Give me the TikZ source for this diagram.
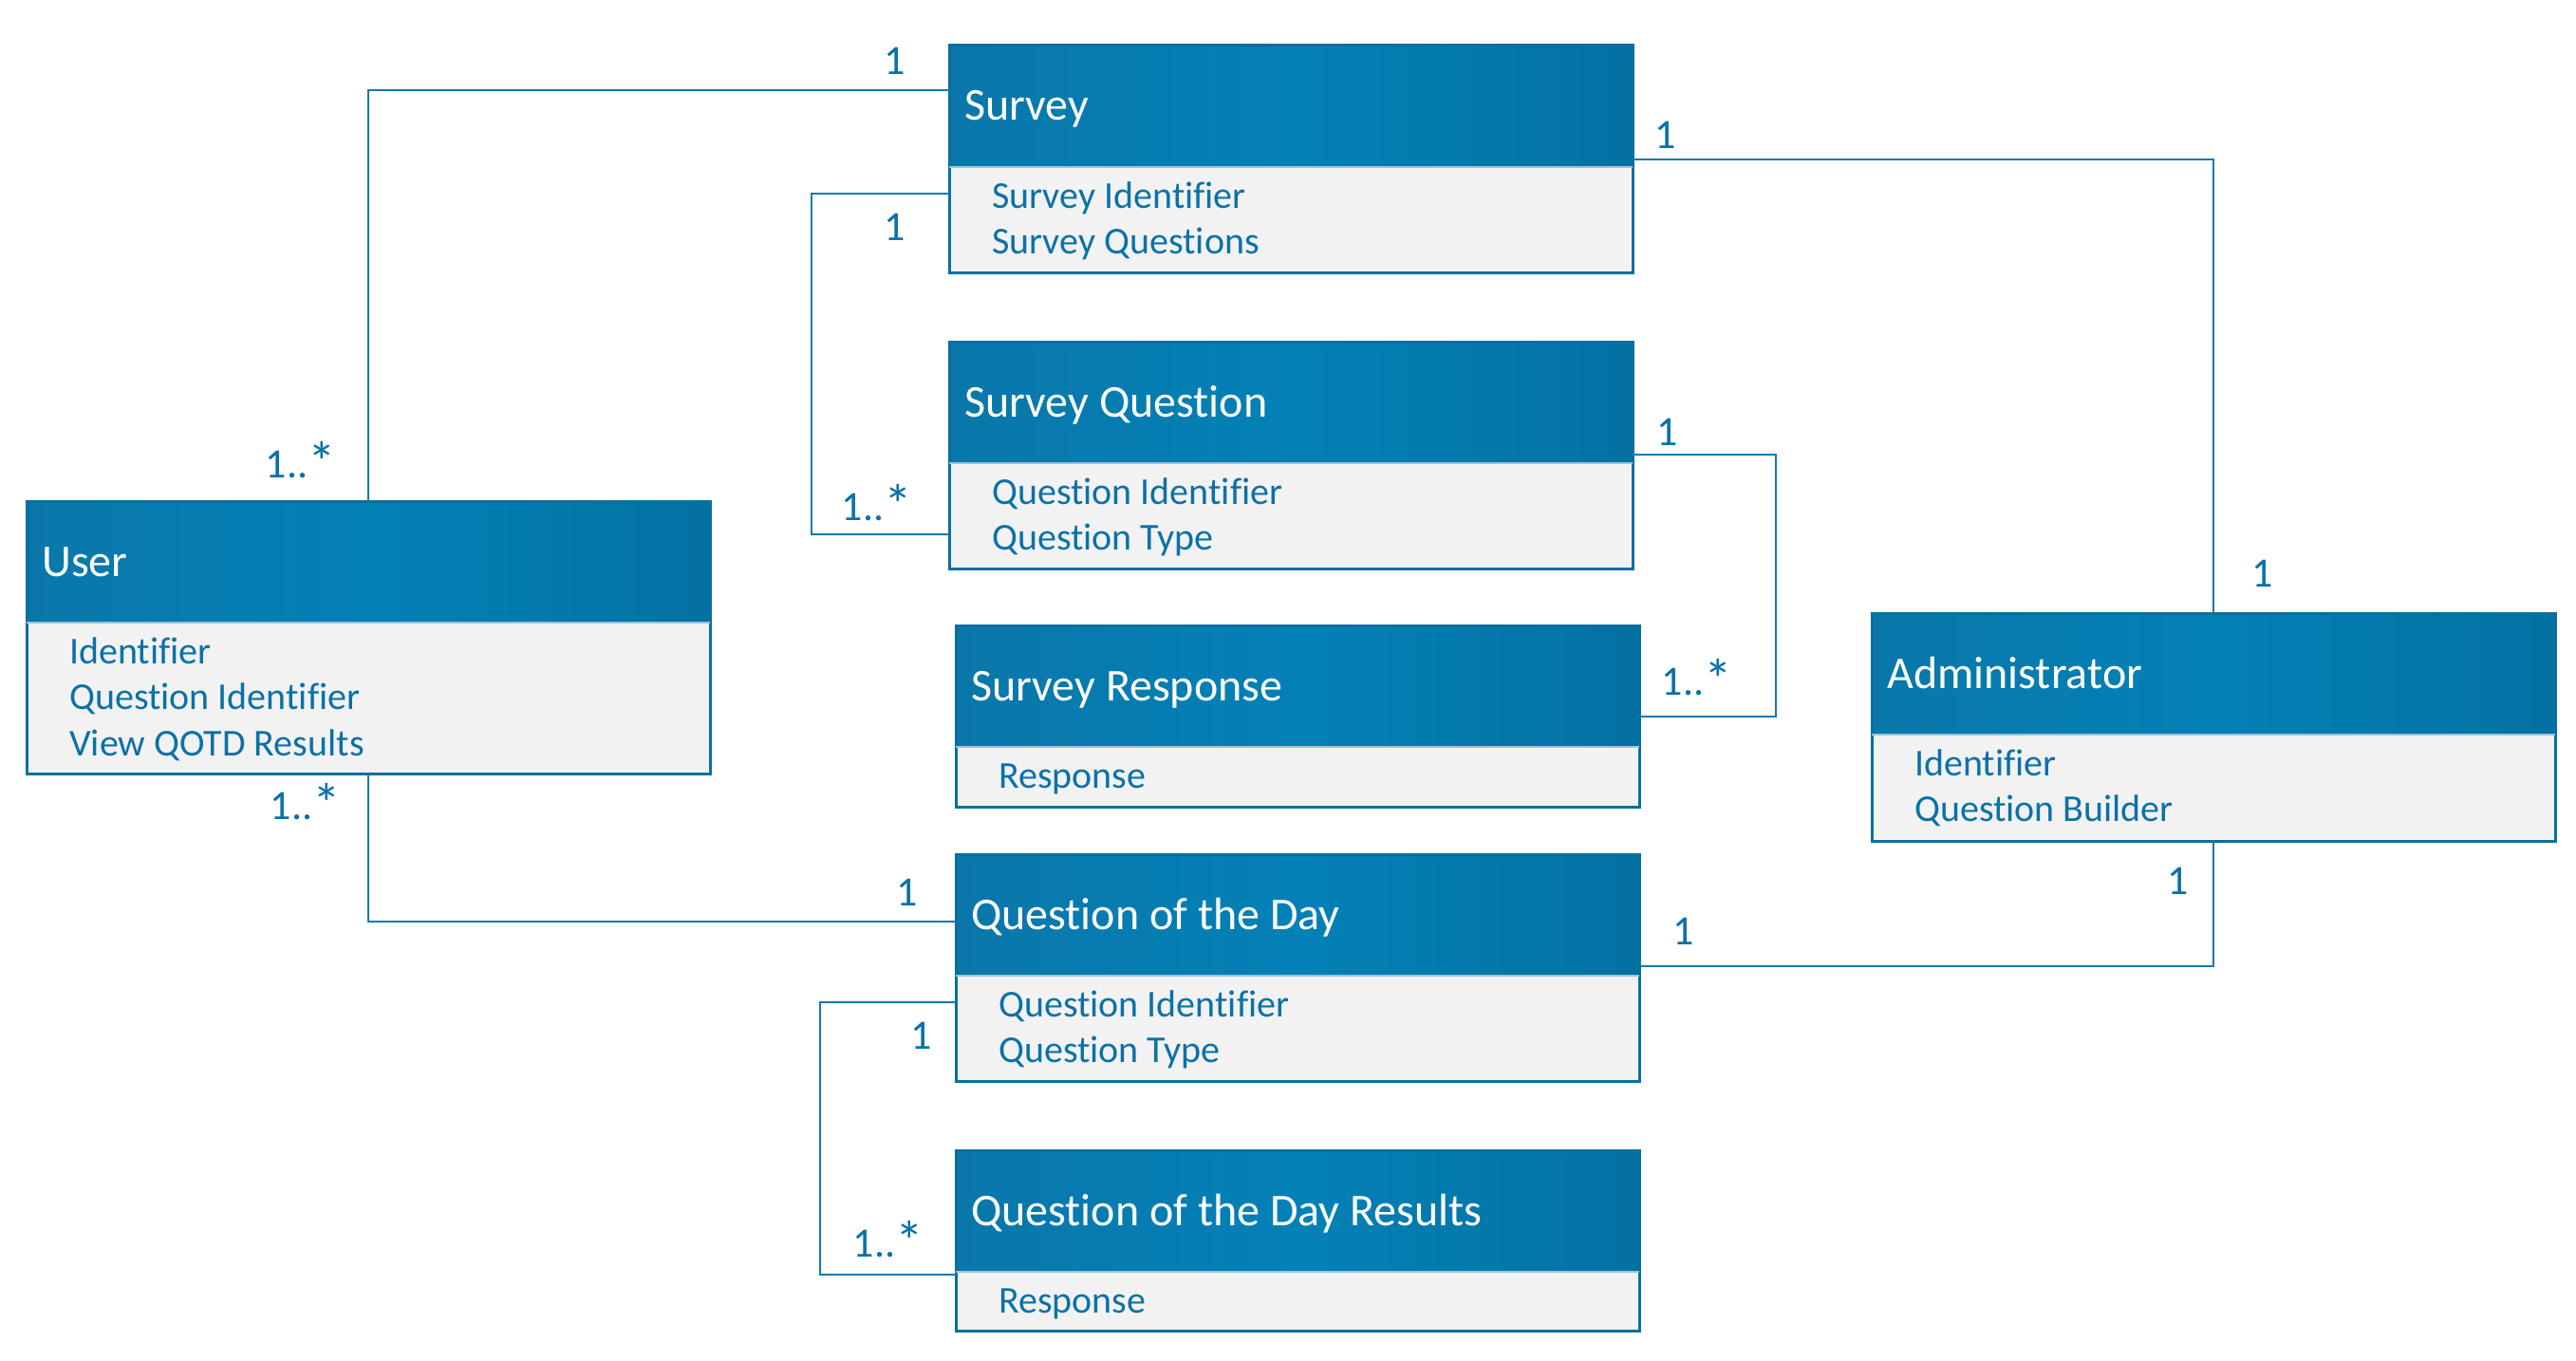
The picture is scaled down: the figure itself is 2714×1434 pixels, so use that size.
\documentclass[tikz,border=0pt]{standalone}
\usepackage{fontspec}
\setmainfont{Carlito}[Ligatures=NoCommon]
\begin{document}
\begin{tikzpicture}[x=1pt,y=-1pt,
  classbox/.style={draw=bordc, line width=3pt, fill=bodyc, minimum width=720pt, inner sep=0pt, outer sep=0pt},
  headbox/.style={left color=hleft, right color=hright, middle color=hmid, minimum width=720pt, minimum height=128pt, inner sep=0pt, outer sep=0pt},
  titletext/.style={text=white, font=\fontsize{48}{58}\selectfont, inner sep=0pt},
  bodytext/.style={text=txtc, font=\fontsize{40}{48}\selectfont, inner sep=0pt},
  mult/.style={text=txtc, font=\fontsize{44}{52}\selectfont, inner sep=0pt},
  conn/.style={draw=linec, line width=2pt}
]
\definecolor{bordc}{HTML}{0A6FA0}
\definecolor{bodyc}{HTML}{F2F2F2}
\definecolor{hleft}{HTML}{0A77AA}
\definecolor{hmid}{HTML}{0381B7}
\definecolor{hright}{HTML}{0371A2}
\definecolor{txtc}{HTML}{0B71A8}
\definecolor{linec}{HTML}{1479AE}
\useasboundingbox (0,0) rectangle (2714,1434);
\fill[white] (0,0) rectangle (2714,1434);

\newcommand\umlbox[6]{%
  \node[classbox, minimum height=#4, anchor=north west] (#1) at (#2,#3) {};
  \node[headbox, anchor=north west] (#1-h) at (#1.north west) {};
  \draw[bordc, line width=3pt] (#1.north west) rectangle (#1.south east);
  \draw[color=white!60!bordc, line width=1.5pt] ([yshift=-128pt]#1.north west) -- ([yshift=-128pt]#1.north east);
  \node[titletext, anchor=base west] (#1-t) at ([xshift=16pt, yshift=-79pt]#1.north west) {#5};
  \foreach \l [count=\i] in {#6} {
    \node[bodytext, anchor=base west] (#1-a\i) at ([xshift=45pt, yshift={-171pt-48.5pt*(\i-1)}]#1.north west) {\l};
  }
}

\umlbox{survey}{1000}{48}{239pt}{Survey}{Survey Identifier, Survey Questions}
\umlbox{sq}{1000}{360}{239pt}{Survey Question}{Question Identifier, Question Type}
\umlbox{sr}{1007}{659}{191pt}{Survey Response}{Response}
\umlbox{qotd}{1007}{900}{239pt}{Question of the Day}{Question Identifier, Question Type}
\umlbox{res}{1007}{1212}{190pt}{Question of the Day Results}{Response}
\umlbox{user}{28}{528}{287pt}{User}{Identifier, Question Identifier, View QOTD Results}
\umlbox{admin}{1972}{646}{240pt}{Administrator}{Identifier, Question Builder}

% connectors
\draw[conn] (user.north) |- ([yshift=-47pt]survey.north west);
\draw[conn] ([yshift=-156pt]survey.north west) -- ++(-145,0) |- ([yshift=-203pt]sq.north west);
\draw[conn] ([yshift=-120pt]survey.north east) -| (admin.north);
\draw[conn] ([yshift=-119pt]sq.north east) -- ++(151,0) |- ([yshift=-96pt]sr.north east);
\draw[conn] (user.south) |- ([yshift=-71pt]qotd.north west);
\draw[conn] ([yshift=-118pt]qotd.north east) -| (admin.south);
\draw[conn] ([yshift=-156pt]qotd.north west) -- ++(-143,0) |- ([yshift=-131pt]res.north west);

% multiplicities
\newcommand\manymult{1..\raisebox{-0.08em}{\scalebox{1.35}{*}}}
\node[mult] (m1) at (943,64) {1};
\node[mult] (m2) at (317,486) {\manymult};
\node[mult] (m3) at (943,239) {1};
\node[mult] (m4) at (924,531) {\manymult};
\node[mult] (m5) at (1755,142) {1};
\node[mult] (m6) at (2384,604) {1};
\node[mult] (m7) at (1757,455) {1};
\node[mult] (m8) at (1788,715) {\manymult};
\node[mult] (m9) at (322,846) {\manymult};
\node[mult] (m10) at (956,940) {1};
\node[mult] (m11) at (1774,981) {1};
\node[mult] (m12) at (2295,928) {1};
\node[mult] (m13) at (971,1091) {1};
\node[mult] (m14) at (936,1307) {\manymult};
\end{tikzpicture}
\end{document}
